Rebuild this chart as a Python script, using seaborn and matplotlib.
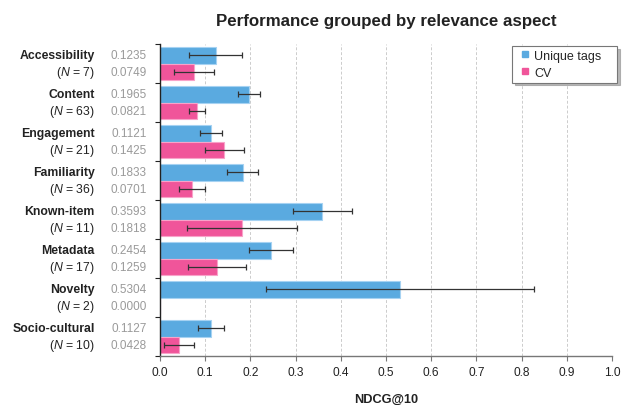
import numpy as np
import pandas as pd
import matplotlib
matplotlib.use("Agg")
import matplotlib.pyplot as plt
from matplotlib.lines import Line2D
import seaborn as sns

aspects = ["Accessibility", "Content", "Engagement", "Familiarity",
           "Known-item", "Metadata", "Novelty", "Socio-cultural"]
counts = [7, 63, 21, 36, 11, 17, 2, 10]
unique_tags = [0.1235, 0.1965, 0.1121, 0.1833, 0.3593, 0.2454, 0.5304, 0.1127]
cv_scores = [0.0749, 0.0821, 0.1425, 0.0701, 0.1818, 0.1259, 0.0000, 0.0428]
unique_err = [0.059, 0.025, 0.024, 0.034, 0.066, 0.048, 0.296, 0.028]
cv_err = [0.045, 0.018, 0.043, 0.029, 0.122, 0.065, np.nan, 0.033]
series = ["Unique tags", "CV"]
x_ticks = [0.0, 0.1, 0.2, 0.3, 0.4, 0.5, 0.6, 0.7, 0.8, 0.9, 1.0]

sns.set_style("white")
plt.rcParams["font.family"] = ["Liberation Sans", "DejaVu Sans"]
plt.rcParams["mathtext.fontset"] = "custom"
plt.rcParams["mathtext.it"] = "Liberation Sans:italic"
plt.rcParams["mathtext.rm"] = "Liberation Sans"

df = pd.DataFrame({
    "aspect": aspects * 2,
    "score": unique_tags + cv_scores,
    "series": [series[0]] * len(aspects) + [series[1]] * len(aspects),
})

colors = {"Unique tags": "#5aaae0", "CV": "#f0559a"}
edges = {"Unique tags": "#a6d2f2", "CV": "#f8a3c9"}

fig = plt.figure(figsize=(6.33, 4.06), dpi=100)
ax = fig.add_axes([160 / 633, 1 - 357 / 406, 452 / 633, 312 / 406])

sns.barplot(data=df, y="aspect", x="score", hue="series", order=aspects,
            hue_order=series, palette=colors, saturation=1, orient="h",
            width=0.85, errorbar=None, ax=ax, legend=False)

errs = {series[0]: unique_err, series[1]: cv_err}
vals = {series[0]: unique_tags, series[1]: cv_scores}
for cont, name in zip(ax.containers, series):
    ys = []
    for bar in cont:
        bar.set_edgecolor(edges[name])
        bar.set_linewidth(0.8)
        ys.append(bar.get_y() + bar.get_height() / 2)
    ax.errorbar(vals[name], ys, xerr=errs[name], fmt="none", ecolor="#333333",
                elinewidth=0.9, capsize=2.5, capthick=0.9, zorder=5)
    for y, v in zip(ys, vals[name]):
        ax.annotate(f"{v:.4f}", xy=(0, y), xycoords=("axes fraction", "data"),
                    xytext=(-9.5, 0), textcoords="offset points", ha="right",
                    va="center", fontsize=8.5, color="#9a9a9a")

# two-line category labels: name beside the first bar, N beside the second
blue_ys = [b.get_y() + b.get_height() / 2 for b in ax.containers[0]]
pink_ys = [b.get_y() + b.get_height() / 2 for b in ax.containers[1]]
for name, n, y1, y2 in zip(aspects, counts, blue_ys, pink_ys):
    ax.annotate(name, xy=(0, y1), xycoords=("axes fraction", "data"),
                xytext=(-47, 0), textcoords="offset points", ha="right",
                va="center", fontsize=8.8, fontweight="bold", color="#222222")
    ax.annotate(f"($\\it{{N}}$ = {n})", xy=(0, y2), xycoords=("axes fraction", "data"),
                xytext=(-47, 0), textcoords="offset points", ha="right",
                va="center", fontsize=8.8, color="#222222")

ax.set_xlim(0, 1.0)
ax.set_ylim(len(aspects) - 0.5, -0.5)
ax.set_xticks(x_ticks)
ax.set_xticklabels([f"{t:.1f}" for t in x_ticks], fontsize=8.6, color="#222222")
ax.set_yticks(np.arange(len(aspects) + 1) - 0.5)
ax.set_yticklabels([])
ax.tick_params(axis="y", length=3.5, width=0.8, color="#222222", left=True)
ax.tick_params(axis="x", length=3.5, width=0.8, color="#777777", bottom=True)
ax.grid(axis="x", linestyle=(0, (3, 2)), color="#cccccc", linewidth=0.7)
ax.set_axisbelow(True)
for s in ["top", "right"]:
    ax.spines[s].set_visible(False)
ax.spines["left"].set_color("#222222")
ax.spines["left"].set_linewidth(1.0)
ax.spines["bottom"].set_color("#777777")
ax.spines["bottom"].set_linewidth(1.0)

ax.set_ylabel("")
ax.set_xlabel("NDCG@10", fontsize=9.2, fontweight="bold", labelpad=10.5, color="#222222")
ax.set_title("Performance grouped by relevance aspect", fontsize=12.2,
             fontweight="bold", pad=14, color="#222222")

handles = [Line2D([], [], marker="s", linestyle="none", markersize=5,
                  markerfacecolor=colors[s], markeredgecolor=colors[s])
           for s in series]
leg = ax.legend(handles, series, loc="upper left",
                bbox_to_anchor=((512 - 160) / 452, 1 - 2 / 312, 105 / 452, 0),
                mode="expand", borderaxespad=0, fontsize=9,
                frameon=True, shadow={"color": "#9a9a9a", "alpha": 0.7},
                fancybox=False, handlelength=1.4,
                handletextpad=0.1, borderpad=0.3, labelspacing=0.4)
leg.get_frame().set_edgecolor("#777777")
leg.get_frame().set_linewidth(0.8)

fig.savefig("out.png", dpi=100)
